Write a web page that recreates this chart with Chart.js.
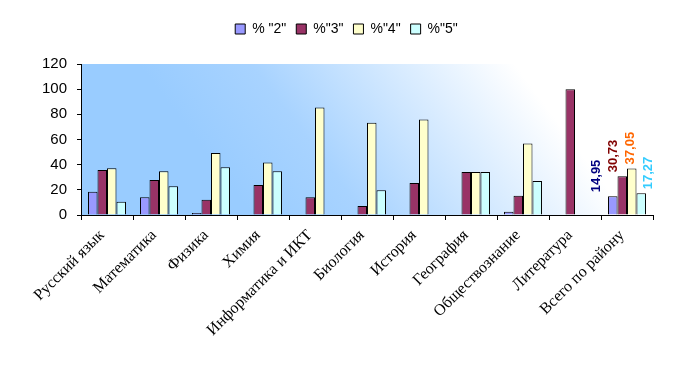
<!DOCTYPE html>
<html>
<head>
<meta charset="utf-8">
<script src="https://cdn.jsdelivr.net/npm/chart.js@4"></script>
<style>
  html, body { margin: 0; padding: 0; background: #fff; }
  #wrap { width: 693px; height: 370px; }
</style>
</head>
<body>
<div id="wrap"><canvas id="chart" width="693" height="370"></canvas></div>
<script>
// DATA
const subjects = ["Русский язык", "Математика", "Физика", "Химия", "Информатика и ИКТ",
    "Биология", "История", "География", "Обществознание", "Литература", "Всего по району"];
const grade2 = [18.4, 14.2, 1.6, 0, 0, 0, 0, 0, 2.6, 0, 14.95];
const grade3 = [35.8, 27.9, 12.1, 23.9, 14.2, 7.1, 25.5, 34.2, 15.3, 100, 30.73];
const grade4 = [37.1, 34.7, 49.2, 41.8, 85.5, 73.4, 75.8, 34.2, 56.8, 0, 37.05];
const grade5 = [10.5, 22.9, 37.9, 34.7, 0, 19.7, 0, 34.2, 27.1, 0, 17.27];
const seriesNames = ['% "2"', '%"3"', '%"4"', '%"5"'];
const yTicks = [0, 20, 40, 60, 80, 100, 120];

const fills = ["#9999FF", "#993366", "#FFFFCC", "#CCFFFF"];
const labelColors = ["#000080", "#800000", "#FF6600", "#33CCFF"];

// extra room under the legend
const legendGap = {
    id: "legendGap",
    beforeInit(chart) {
        const fit = chart.legend.fit;
        chart.legend.fit = function () {
            fit.bind(chart.legend)();
            this.height += 18;
        };
    }
};

// plot area gradient (blue -> white, diagonal)
const plotBg = {
    id: "plotBg",
    beforeDraw(chart) {
        const { ctx, chartArea: a } = chart;
        const x0 = a.left + 0.3 * (a.right - a.left), y0 = a.bottom;
        const g = ctx.createLinearGradient(x0, y0, x0 + 240, y0 - 180);
        g.addColorStop(0, "#99CCFF");
        g.addColorStop(0.3, "#A8D3FF");
        g.addColorStop(1, "#FFFFFF");
        ctx.save();
        ctx.fillStyle = g;
        ctx.fillRect(a.left, a.top, a.right - a.left, a.bottom - a.top);
        ctx.restore();
    }
};

// value labels on the last group only, rotated
const lastLabels = {
    id: "lastLabels",
    afterDatasetsDraw(chart) {
        const ctx = chart.ctx;
        const idx = subjects.length - 1;
        const metas = chart.data.datasets.map((_, i) => chart.getDatasetMeta(i).data[idx]);
        const center = metas.reduce((s, b) => s + b.x, 0) / metas.length;
        ctx.save();
        ctx.font = "bold 13px 'Liberation Sans', Arial, sans-serif";
        ctx.textAlign = "left";
        ctx.textBaseline = "middle";
        chart.data.datasets.forEach((ds, i) => {
            const bar = metas[i];
            const txt = ds.data[idx].toFixed(2).replace(".", ",");
            ctx.save();
            ctx.translate(center - 5 + (i - 1.5) * 17.3, bar.y - 4);
            ctx.rotate(-Math.PI / 2);
            ctx.fillStyle = labelColors[i];
            ctx.fillText(txt, 0, 0);
            ctx.restore();
        });
        ctx.restore();
    }
};

const datasets = [grade2, grade3, grade4, grade5].map((d, i) => ({
    label: seriesNames[i],
    data: d,
    backgroundColor: fills[i],
    borderColor: "#000",
    borderWidth: 1,
    borderSkipped: "bottom",
    categoryPercentage: 0.73,
    barPercentage: 1.0
}));

new Chart(document.getElementById("chart"), {
    type: "bar",
    data: { labels: subjects, datasets },
    plugins: [legendGap, plotBg, lastLabels],
    options: {
        responsive: false,
        animation: false,
        layout: { padding: { top: 12, right: 0, left: 0, bottom: 0 } },
        plugins: {
            legend: {
                position: "top",
                labels: {
                    boxWidth: 10,
                    boxHeight: 10,
                    padding: 10,
                    color: "#000",
                    font: { family: "'Liberation Sans', Arial, sans-serif", size: 14 },
                    generateLabels(chart) {
                        return chart.data.datasets.map((ds, i) => ({
                            text: ds.label,
                            fillStyle: fills[i],
                            strokeStyle: "#000",
                            lineWidth: 1,
                            datasetIndex: i
                        }));
                    }
                }
            },
            tooltip: { enabled: false }
        },
        scales: {
            x: {
                offset: true,
                afterFit(s) { s.height = 155; },
                grid: { offset: true, drawOnChartArea: false, drawTicks: true, tickLength: 5, color: "#000" },
                border: { color: "#000", width: 1 },
                ticks: {
                    minRotation: 45,
                    maxRotation: 45,
                    autoSkip: false,
                    color: "#000",
                    padding: 6,
                    labelOffset: -5,
                    font: { family: "'Liberation Serif', 'Times New Roman', serif", size: 16 }
                }
            },
            y: {
                min: 0,
                max: 120,
                afterFit(s) { s.width = 81; },
                afterBuildTicks(s) { s.ticks = yTicks.map(v => ({ value: v })); },
                grid: { drawOnChartArea: false, drawTicks: true, tickLength: 4, color: "#000" },
                border: { color: "#000", width: 1 },
                ticks: {
                    color: "#000",
                    padding: 10,
                    font: { family: "'Liberation Sans', Arial, sans-serif", size: 15 }
                }
            },
            // empty right-hand spacer
            yRight: {
                position: "right",
                afterFit(s) { s.width = 40; },
                grid: { display: false },
                border: { display: false },
                ticks: { display: false }
            }
        }
    }
});
</script>
</body>
</html>
